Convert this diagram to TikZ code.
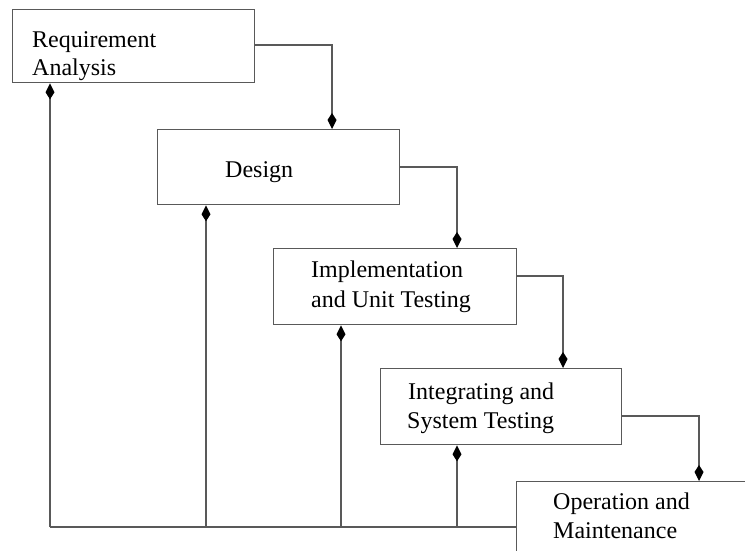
\documentclass[tikz,border=0pt]{standalone}
\usepackage{fontspec}
\setmainfont{Liberation Serif}
\usetikzlibrary{arrows.meta}
\begin{document}
\begin{tikzpicture}[x=1pt,y=-1pt,
  box/.style={draw=black!65, line width=1.3pt, rectangle, inner sep=0pt, anchor=north west},
  lbl/.style={anchor=base west, inner sep=0pt, font=\fontsize{24}{29}\selectfont, text=black},
  line/.style={draw=black!65, line width=1.3pt},
  conn/.style={line, -{Kite[length=16pt,width=9pt,inset=7pt,color=black,fill=black]}}]
\useasboundingbox (0,0) rectangle (745,551);
\clip (0,0) rectangle (745,551);
% boxes
\node[box, minimum width=242pt, minimum height=73pt] (b1) at (12,9) {};
\node[box, minimum width=242pt, minimum height=75pt] (b2) at (157,129) {};
\node[box, minimum width=243pt, minimum height=76pt] (b3) at (273,248) {};
\node[box, minimum width=241pt, minimum height=76pt] (b4) at (380,368) {};
\node[box, minimum width=300pt, minimum height=120pt] (b5) at (516,481) {};
% labels
\node[lbl] (t1a) at (32,48) {Requirement};
\node[lbl] (t1b) at (32,76) {Analysis};
\node[lbl] (t2) at (225,177) {Design};
\node[lbl] (t3a) at (311,277) {Implementation};
\node[lbl] (t3b) at (311,307) {and Unit Testing};
\node[lbl] (t4a) at (408,399) {Integrating and};
\node[lbl] (t4b) at (407,428) {System Testing};
\node[lbl] (t5a) at (553,509) {Operation and};
\node[lbl] (t5b) at (553,538) {Maintenance};
% forward connectors
\draw[conn] (b1.east |- 0,45) -| (b2.north -| 332,0);
\draw[conn] (b2.east |- 0,167) -| (b3.north -| 457,0);
\draw[conn] (b3.east |- 0,276) -| (b4.north -| 563,0);
\draw[conn] (b4.east |- 0,416) -| (b5.north -| 699,0);
% feedback
\coordinate (f1) at (50,527);
\coordinate (f2) at (206,527);
\coordinate (f3) at (341,527);
\coordinate (f4) at (457,527);
\draw[line] (f1) -- (b5.west |- f1);
\draw[conn] (f1) -- (b1.south -| f1);
\draw[conn] (f2) -- (b2.south -| f2);
\draw[conn] (f3) -- (b3.south -| f3);
\draw[conn] (f4) -- (b4.south -| f4);
\end{tikzpicture}
\end{document}
